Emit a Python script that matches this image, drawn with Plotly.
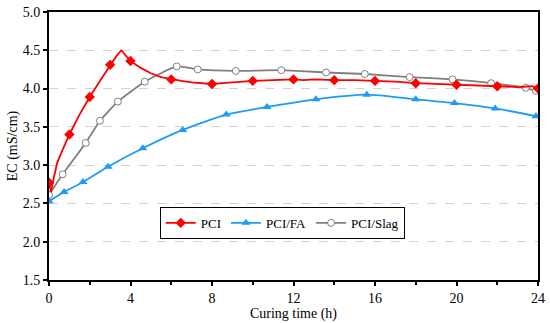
import plotly.graph_objects as go

# PCI (dense line)
pci_t = [0, 0.1, 0.25, 0.4, 0.7, 1.0, 1.5, 2.0, 2.5, 3.0, 3.3, 3.55, 3.8, 4.0, 4.5, 5.0,
         5.5, 6.0, 6.5, 7.0, 7.5, 8.0, 8.5, 9.0, 9.5, 10.0, 11.0, 12.0, 12.5, 13.0, 14.0, 15.0,
         16.0, 17.0, 18.0, 19.0, 20.0, 21.0, 22.0, 23.0, 23.7, 24.0]
pci_v = [2.77, 2.65, 2.85, 3.03, 3.22, 3.40, 3.66, 3.89, 4.10, 4.31, 4.42, 4.50, 4.42, 4.36, 4.27, 4.20,
         4.15, 4.12, 4.10, 4.08, 4.07, 4.06, 4.07, 4.08, 4.09, 4.10, 4.11, 4.12, 4.11, 4.12, 4.11, 4.11,
         4.10, 4.09, 4.07, 4.06, 4.05, 4.04, 4.03, 4.02, 4.03, 4.00]
pci_mt = [0, 1, 2, 3, 4, 6, 8, 10, 12, 14, 16, 18, 20, 22, 24]
pci_mv = [2.77, 3.40, 3.89, 4.31, 4.36, 4.12, 4.06, 4.10, 4.12, 4.11, 4.10, 4.07, 4.05, 4.03, 4.00]

# PCI/FA
fa_t = [0, 0.74, 1.67, 2.9, 4.6, 6.56, 8.7, 10.7, 13.1, 15.6, 18.0, 19.9, 21.9, 23.9]
fa_v = [2.53, 2.65, 2.78, 2.98, 3.22, 3.46, 3.66, 3.76, 3.86, 3.92, 3.86, 3.81, 3.74, 3.64]

# PCI/Slag
sl_t = [0, 0.67, 1.8, 2.5, 3.38, 4.7, 6.27, 7.3, 9.17, 11.4, 13.6, 15.5, 17.7, 19.8, 21.7, 23.4, 23.9]
sl_v = [2.61, 2.88, 3.29, 3.58, 3.83, 4.09, 4.29, 4.25, 4.23, 4.24, 4.21, 4.19, 4.15, 4.12, 4.07, 4.01, 3.97]

RED = "#FF0000"
BLUE = "#1E9BF5"
GRAY = "#7F7F7F"

fig = go.Figure()
fig.add_trace(go.Scatter(x=sl_t, y=sl_v, mode="lines+markers", name="PCI/Slag",
                         line=dict(color=GRAY, width=1.8, shape="spline", smoothing=0.5),
                         marker=dict(symbol="circle", size=7, color="white",
                                     line=dict(color=GRAY, width=1)),
                         showlegend=False))
fig.add_trace(go.Scatter(x=fa_t, y=fa_v, mode="lines+markers", name="PCI/FA",
                         line=dict(color=BLUE, width=1.8, shape="spline", smoothing=0.6),
                         marker=dict(symbol="triangle-up", size=8, color=BLUE),
                         showlegend=False))
fig.add_trace(go.Scatter(x=pci_t, y=pci_v, mode="lines", name="PCI",
                         line=dict(color=RED, width=1.8), showlegend=False))
fig.add_trace(go.Scatter(x=pci_mt, y=pci_mv, mode="markers", name="PCI",
                         marker=dict(symbol="diamond", size=8, color=RED),
                         showlegend=False))

# legend entries
fig.add_trace(go.Scatter(x=[None], y=[None], mode="lines+markers", name="PCI",
                         line=dict(color=RED, width=1.8),
                         marker=dict(symbol="diamond", size=8, color=RED)))
fig.add_trace(go.Scatter(x=[None], y=[None], mode="lines+markers", name="PCI/FA",
                         line=dict(color=BLUE, width=1.8),
                         marker=dict(symbol="triangle-up", size=8, color=BLUE)))
fig.add_trace(go.Scatter(x=[None], y=[None], mode="lines+markers", name="PCI/Slag",
                         line=dict(color=GRAY, width=1.8),
                         marker=dict(symbol="circle", size=7, color="white",
                                     line=dict(color=GRAY, width=1))))

font_family = "Liberation Serif"
fig.update_layout(
    width=550, height=323,
    margin=dict(l=49, r=12, t=12, b=43, autoexpand=False),
    paper_bgcolor="white", plot_bgcolor="white",
    font=dict(family=font_family, size=14, color="black"),
    legend=dict(orientation="h", x=0.477, y=0.213, xanchor="center", yanchor="middle",
                bordercolor="black", borderwidth=1, bgcolor="white",
                font=dict(size=13), itemwidth=30, tracegroupgap=0),
    xaxis=dict(range=[0, 24], tickmode="array", tickvals=[0, 4, 8, 12, 16, 20, 24],
               ticks="outside", ticklen=4, tickwidth=1.5, tickcolor="black",
               minor=dict(tickvals=[2, 6, 10, 14, 18, 22], ticks="outside", ticklen=3,
                          tickwidth=1.5, tickcolor="black"),
               showline=True, linecolor="black", linewidth=2, mirror=True,
               showgrid=False, zeroline=False, automargin=False,
               title=dict(text="Curing time (h)", standoff=2, font=dict(size=14)),
               tickfont=dict(size=14)),
    yaxis=dict(range=[1.5, 5.0], tickmode="array",
               tickvals=[1.5, 2.0, 2.5, 3.0, 3.5, 4.0, 4.5, 5.0],
               ticktext=["1.5", "2.0", "2.5", "3.0", "3.5", "4.0", "4.5", "5.0"],
               ticks="outside", ticklen=4, tickwidth=1.5, tickcolor="black",
               showline=True, linecolor="black", linewidth=2, mirror=True,
               showgrid=True, gridcolor="#D3D3D3", griddash="dash", gridwidth=1,
               zeroline=False, automargin=False,
               title=dict(text="EC (mS/cm)", standoff=2, font=dict(size=14)),
               tickfont=dict(size=14)),
)
fig.write_html("out.html", config={"displayModeBar": False},
               post_script="document.body.style.margin='0';document.body.style.padding='0';")
